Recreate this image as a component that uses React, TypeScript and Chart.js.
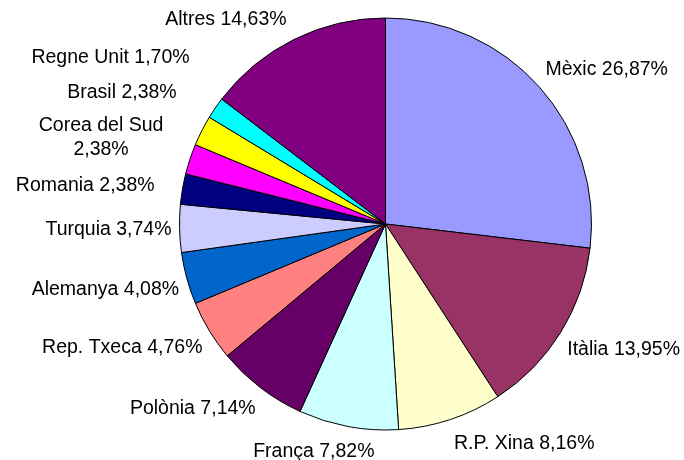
import React, { useEffect, useRef } from "react";
import { Chart, registerables } from "chart.js";

Chart.register(...registerables);

const countries = [
  "Mèxic",
  "Itàlia",
  "R.P. Xina",
  "França",
  "Polònia",
  "Rep. Txeca",
  "Alemanya",
  "Turquia",
  "Romania",
  "Corea del Sud",
  "Brasil",
  "Regne Unit",
  "Altres",
];
const shares = [26.87, 13.95, 8.16, 7.82, 7.14, 4.76, 4.08, 3.74, 2.38, 2.38, 2.38, 1.7, 14.63];
const colors = [
  "#9999FF",
  "#993366",
  "#FFFFCC",
  "#CCFFFF",
  "#660066",
  "#FF8080",
  "#0066CC",
  "#CCCCFF",
  "#000080",
  "#FF00FF",
  "#FFFF00",
  "#00FFFF",
  "#800080",
];
const wrappedLabels = ["Corea del Sud"];

const fmt = (v: number) => v.toFixed(2).replace(".", ",") + "%";
const clamp01 = (v: number) => Math.max(0, Math.min(1, v));

const outLabels = {
  id: "outLabels",
  afterDatasetsDraw(chart: any, _args: any, opts: any) {
    const ctx = chart.ctx;
    const meta = chart.getDatasetMeta(0);
    ctx.save();
    ctx.font = opts.font;
    ctx.fillStyle = "#000";
    ctx.textBaseline = "middle";
    ctx.textAlign = "center";
    meta.data.forEach((arc: any, i: number) => {
      const { x, y, startAngle, endAngle, outerRadius } = arc.getProps(
        ["x", "y", "startAngle", "endAngle", "outerRadius"],
        true
      );
      const mid = (startAngle + endAngle) / 2;
      const dx = Math.cos(mid);
      const dy = Math.sin(mid);
      const rx = outerRadius + opts.gapX;
      const ry = outerRadius + opts.gapY + opts.lowerExtra * Math.max(dy, 0);
      const ax = x + dx * rx;
      const ay = y + dy * ry;
      const name = chart.data.labels[i];
      const val = fmt(chart.data.datasets[0].data[i]);
      const lines = wrappedLabels.includes(name) ? [name, val] : [name + " " + val];
      const w = Math.max(...lines.map((l: string) => ctx.measureText(l).width));
      const h = opts.lineHeight * (lines.length - 1) + opts.boxHeight;
      const fx = clamp01(0.5 - 1.5 * dx);
      const fy = clamp01(0.5 - 1.5 * dy);
      const nudge = opts.nudges[name] || [0, 0];
      const cx = ax - fx * w + w / 2 + nudge[0];
      const top = ay - fy * h + nudge[1];
      lines.forEach((l: string, j: number) =>
        ctx.fillText(l, cx, top + opts.boxHeight / 2 + j * opts.lineHeight)
      );
    });
    ctx.restore();
  },
};

export default function App() {
  const ref = useRef<HTMLCanvasElement | null>(null);
  useEffect(() => {
    document.body.style.margin = "0";
    const chart = new Chart(ref.current as HTMLCanvasElement, {
      type: "pie",
      data: {
        labels: countries,
        datasets: [
          {
            data: shares,
            backgroundColor: colors,
            borderColor: "#000000",
            borderWidth: 1,
          },
        ],
      },
      options: {
        responsive: false,
        animation: false,
        layout: { padding: { left: 179, top: 17.5, right: 92, bottom: 29.5 } },
        plugins: {
          legend: { display: false },
          tooltip: { enabled: false },
          outLabels: {
            font: '19.5px "Liberation Sans", Arial, sans-serif',
            gapX: 8,
            gapY: 12,
            lowerExtra: 3.5,
            boxHeight: 19,
            lineHeight: 24,
            nudges: {
              Romania: [-20, 4],
              "Corea del Sud": [-19, 3],
              Brasil: [-18, -23],
              "Regne Unit": [-19, -34],
              "R.P. Xina": [5, 0],
              Altres: [-4, 0],
            },
          },
        } as any,
      },
      plugins: [outLabels],
    });
    return () => chart.destroy();
  }, []);
  return (
    <div style={{ position: "fixed", left: 0, top: 0, width: 684, height: 460, background: "#fff" }}>
      <canvas ref={ref} width={684} height={460} />
    </div>
  );
}
